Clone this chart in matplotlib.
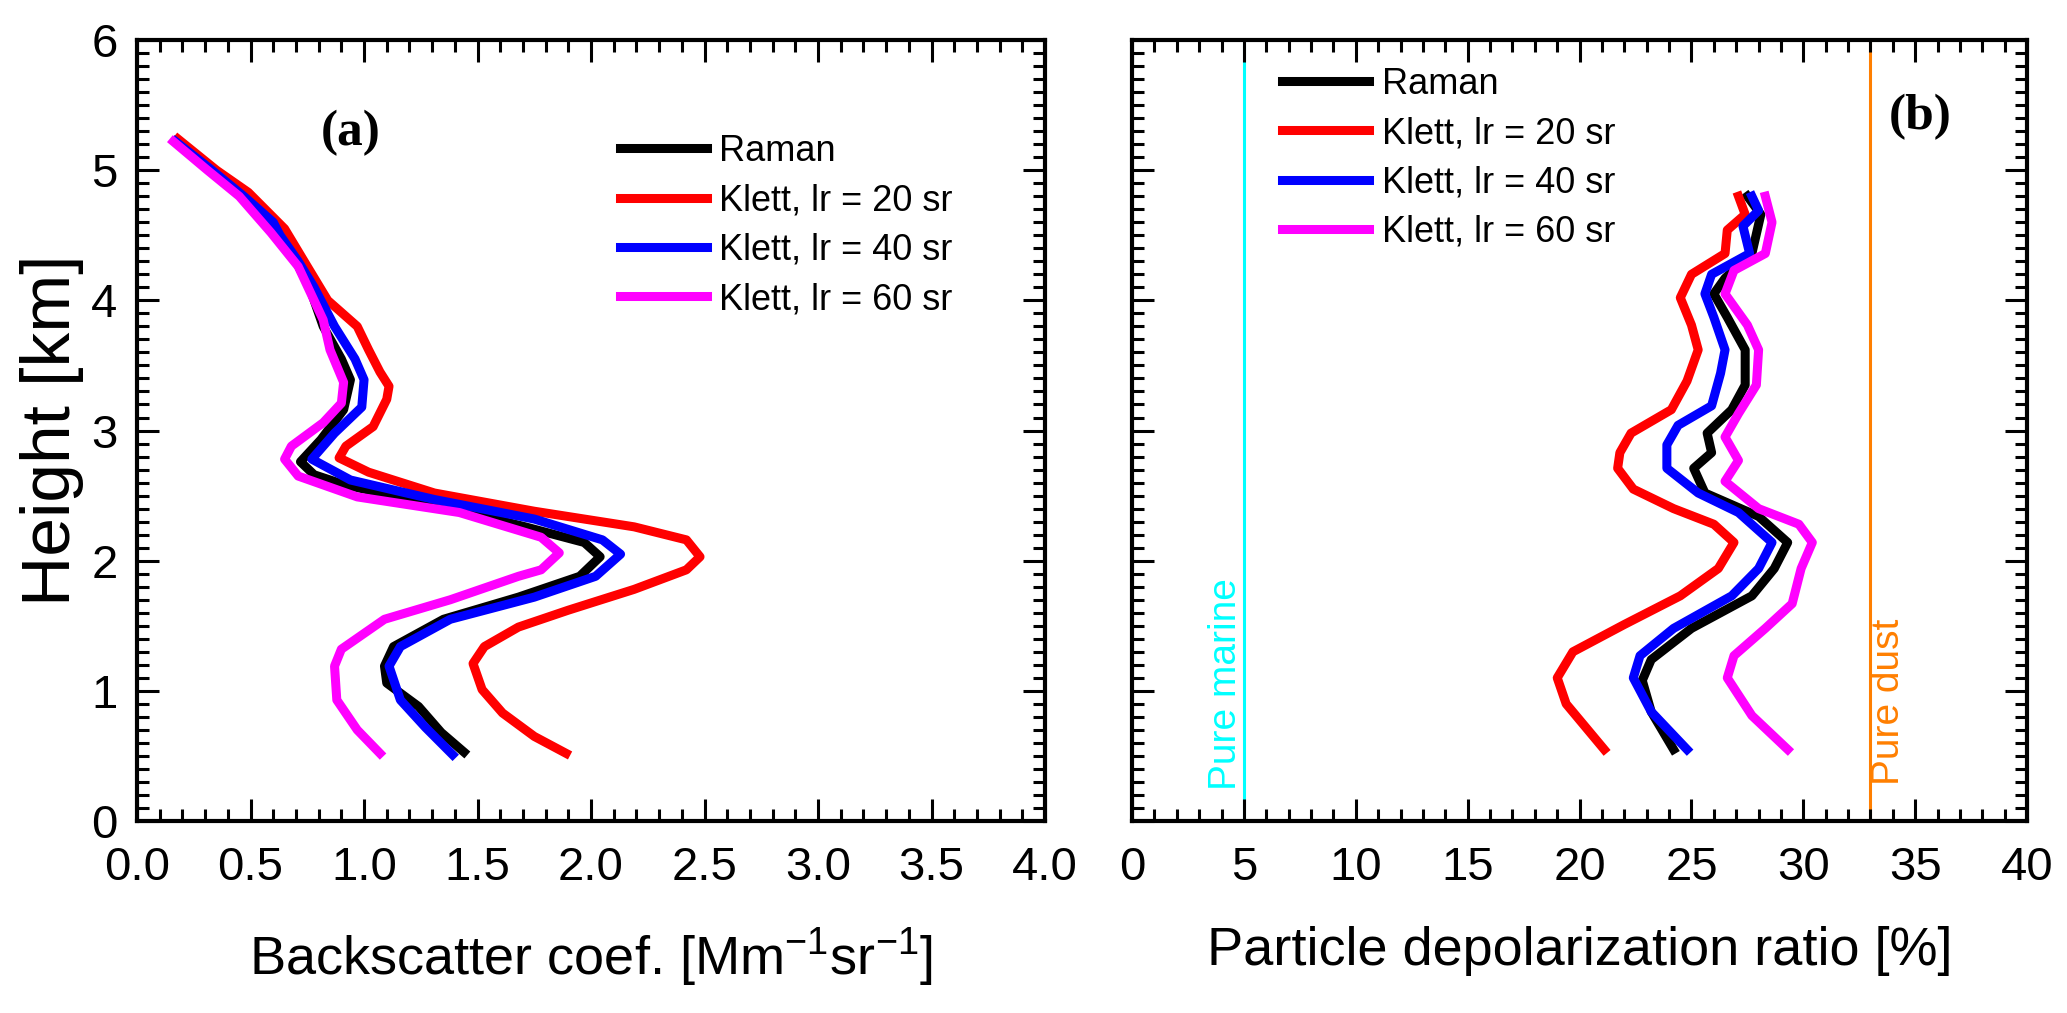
import matplotlib
matplotlib.use("Agg")
import matplotlib.pyplot as plt
from matplotlib.ticker import MultipleLocator, FormatStrFormatter

plt.rcParams['font.family'] = ['Liberation Sans', 'DejaVu Sans']
plt.rcParams['mathtext.default'] = 'regular'

# ---- panel (a): backscatter coefficient [Mm-1 sr-1] vs height [km]
raman_h = [5.22, 5.0, 4.8, 4.6, 4.5, 4.3, 4.1, 3.8, 3.55, 3.39, 3.16, 2.93, 2.76, 2.66, 2.58,
           2.45, 2.26, 2.14, 2.03, 1.88, 1.72, 1.55, 1.34, 1.19, 1.06, 0.88, 0.68, 0.53]
raman_b = [0.17, 0.33, 0.47, 0.59, 0.62, 0.70, 0.76, 0.82, 0.90, 0.94, 0.91, 0.81, 0.72, 0.78, 0.92,
           1.27, 1.71, 1.97, 2.04, 1.95, 1.68, 1.35, 1.13, 1.09, 1.10, 1.24, 1.34, 1.44]

k20_h = [5.24, 5.0, 4.83, 4.55, 4.26, 4.0, 3.8, 3.62, 3.45, 3.34, 3.24, 3.03, 2.88, 2.79, 2.68,
         2.52, 2.38, 2.26, 2.16, 2.03, 1.93, 1.78, 1.62, 1.49, 1.34, 1.21, 1.01, 0.83, 0.65, 0.52]
k20_b = [0.18, 0.35, 0.49, 0.65, 0.75, 0.84, 0.97, 1.02, 1.07, 1.11, 1.10, 1.04, 0.92, 0.89, 1.02,
         1.31, 1.75, 2.19, 2.42, 2.48, 2.42, 2.19, 1.90, 1.68, 1.53, 1.48, 1.52, 1.61, 1.75, 1.89]

k40_h = [5.22, 5.0, 4.8, 4.6, 4.5, 4.3, 4.1, 3.80, 3.55, 3.39, 3.18, 2.98, 2.78, 2.62, 2.47,
         2.32, 2.16, 2.05, 1.88, 1.72, 1.55, 1.34, 1.19, 0.93, 0.72, 0.51]
k40_b = [0.17, 0.33, 0.47, 0.60, 0.63, 0.71, 0.78, 0.87, 0.96, 1.00, 0.99, 0.87, 0.77, 0.94, 1.31,
         1.75, 2.05, 2.13, 2.02, 1.75, 1.38, 1.16, 1.11, 1.16, 1.27, 1.39]

k60_h = [5.22, 5.0, 4.8, 4.52, 4.26, 3.85, 3.62, 3.37, 3.21, 3.06, 2.88, 2.78, 2.65, 2.49, 2.37,
         2.18, 2.06, 1.93, 1.88, 1.70, 1.55, 1.32, 1.19, 0.93, 0.70, 0.52]
k60_b = [0.16, 0.31, 0.45, 0.59, 0.71, 0.82, 0.85, 0.91, 0.90, 0.82, 0.68, 0.65, 0.71, 0.97, 1.42,
         1.78, 1.86, 1.78, 1.68, 1.38, 1.09, 0.90, 0.87, 0.88, 0.97, 1.07]

# ---- panel (b): particle depolarization ratio [%] vs height [km]
raman_dh = [4.80, 4.66, 4.36, 4.17, 4.05, 3.87, 3.62, 3.35, 3.16, 2.98, 2.83, 2.71, 2.52, 2.34,
            2.14, 1.94, 1.73, 1.48, 1.24, 1.08, 0.84, 0.55]
raman_d = [27.5, 28.1, 27.7, 26.5, 26.0, 26.6, 27.4, 27.4, 26.8, 25.7, 25.9, 25.1, 25.6, 28.0,
           29.3, 28.7, 27.7, 25.0, 23.2, 22.8, 23.2, 24.2]

k20_dh = [4.80, 4.66, 4.54, 4.36, 4.20, 4.02, 3.81, 3.62, 3.38, 3.16, 2.98, 2.83, 2.71, 2.55,
          2.40, 2.28, 2.14, 1.94, 1.73, 1.51, 1.30, 1.10, 0.90, 0.55]
k20_d = [27.1, 27.4, 26.6, 26.5, 25.0, 24.5, 25.0, 25.3, 24.8, 24.1, 22.3, 21.8, 21.7, 22.4,
         24.2, 26.0, 26.9, 26.2, 24.5, 22.0, 19.7, 19.0, 19.4, 21.1]

k40_dh = [4.80, 4.69, 4.57, 4.36, 4.20, 4.05, 3.87, 3.62, 3.44, 3.19, 3.04, 2.89, 2.71, 2.52,
          2.37, 2.14, 1.94, 1.73, 1.48, 1.27, 1.10, 0.84, 0.55]
k40_d = [27.7, 28.0, 27.3, 27.6, 25.9, 25.6, 26.0, 26.5, 26.3, 25.9, 24.4, 23.9, 23.9, 25.3,
         27.1, 28.6, 28.0, 26.8, 24.2, 22.7, 22.4, 23.2, 24.8]

k60_dh = [4.80, 4.60, 4.36, 4.23, 4.05, 3.81, 3.62, 3.35, 3.13, 2.95, 2.77, 2.61, 2.40, 2.28,
          2.14, 1.94, 1.67, 1.48, 1.27, 1.10, 0.81, 0.55]
k60_d = [28.3, 28.6, 28.3, 26.9, 26.5, 27.5, 28.0, 27.9, 27.1, 26.5, 27.1, 26.5, 28.0, 29.8,
         30.4, 29.9, 29.5, 28.3, 26.9, 26.6, 27.7, 29.3]

labels = ['Raman', 'Klett, lr = 20 sr', 'Klett, lr = 40 sr', 'Klett, lr = 60 sr']
colors = ['black', '#FF0000', '#0000FF', '#FF00FF']
marine_ratio = 5
dust_ratio = 33

fig = plt.figure(figsize=(20.67, 10.13), dpi=100)
ax1 = fig.add_axes([0.0663, 0.1895, 0.4393, 0.7710])
ax2 = fig.add_axes([0.5477, 0.1895, 0.4330, 0.7710])

lw = 6.5
for b, h, c, lab in zip([raman_b, k20_b, k40_b, k60_b], [raman_h, k20_h, k40_h, k60_h], colors, labels):
    ax1.plot(b, h, color=c, lw=lw, label=lab, solid_joinstyle='round')
for d, h, c, lab in zip([raman_d, k20_d, k40_d, k60_d], [raman_dh, k20_dh, k40_dh, k60_dh], colors, labels):
    ax2.plot(d, h, color=c, lw=lw, label=lab, solid_joinstyle='round')

ax2.axvline(marine_ratio, color='#00FFFF', lw=2.2, zorder=1)
ax2.axvline(dust_ratio, color='#FF7F00', lw=2.2, zorder=1)
ax2.text(4.2, 0.24, 'Pure marine', rotation=90, color='#00FFFF', fontsize=28, ha='center', va='bottom')
ax2.text(33.85, 0.28, 'Pure dust', rotation=90, color='#FF7F00', fontsize=28, ha='center', va='bottom')

ax1.set_xlim(0, 4)
ax2.set_xlim(0, 40)
for ax in (ax1, ax2):
    ax.set_ylim(0, 6)
    ax.yaxis.set_major_locator(MultipleLocator(1))
    ax.yaxis.set_minor_locator(MultipleLocator(0.1))
    ax.tick_params(which='both', direction='in', top=True, right=True, width=2.2, labelsize=34)
    ax.tick_params(which='major', length=16)
    ax.tick_params(which='minor', length=8.5)
    ax.tick_params(axis='x', pad=18)
    ax.tick_params(axis='y', pad=14)
    for s in ax.spines.values():
        s.set_linewidth(3)

ax1.xaxis.set_major_locator(MultipleLocator(0.5))
ax1.xaxis.set_minor_locator(MultipleLocator(0.1))
ax1.xaxis.set_major_formatter(FormatStrFormatter('%.1f'))
ax2.xaxis.set_major_locator(MultipleLocator(5))
ax2.xaxis.set_minor_locator(MultipleLocator(1))
ax2.tick_params(axis='y', labelleft=False)

leg_kw = dict(frameon=False, fontsize=26, loc='upper left', borderaxespad=0, borderpad=0,
              handlelength=2.4, handletextpad=0.35, labelspacing=0.4)
ax1.legend(bbox_to_anchor=(0.532, 0.880), **leg_kw)
ax2.legend(bbox_to_anchor=(0.168, 0.966), **leg_kw)

ax1.text(0.235, 0.881, '(a)', transform=ax1.transAxes, fontsize=37, fontweight='bold',
         family='Liberation Serif', ha='center', va='center')
ax2.text(0.880, 0.901, '(b)', transform=ax2.transAxes, fontsize=37, fontweight='bold',
         family='Liberation Serif', ha='center', va='center')

ax1.set_ylabel('Height [km]', fontsize=50)
ax1.yaxis.set_label_coords(-0.058, 0.5)
ax1.set_xlabel('Backscatter coef. [Mm$^{-1}$sr$^{-1}$]', fontsize=39)
ax1.xaxis.set_label_coords(0.5, -0.135)
ax2.set_xlabel('Particle depolarization ratio [%]', fontsize=39)
ax2.xaxis.set_label_coords(0.5, -0.135)

fig.savefig('out.png', dpi=100)
